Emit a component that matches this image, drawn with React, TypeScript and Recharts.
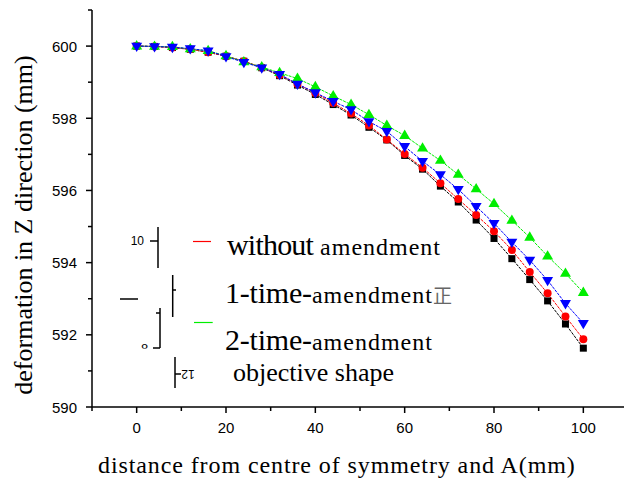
import { LineChart, Line, XAxis, YAxis } from "recharts";

const xValues = [0, 4, 8, 12, 16, 20, 24, 28, 32, 36, 40, 44, 48, 52, 56, 60, 64, 68, 72, 76, 80, 84, 88, 92, 96, 100];

const objectiveShape = [
  600.0, 599.99, 599.96, 599.91, 599.83, 599.72, 599.58, 599.4, 599.18, 598.92, 598.66, 598.38, 598.09,
  597.75, 597.4, 596.97, 596.59, 596.12, 595.68, 595.18, 594.67, 594.11, 593.53, 592.94, 592.3, 591.63,
];
const withoutAmendment = [
  600.0, 599.99, 599.96, 599.91, 599.83, 599.72, 599.58, 599.41, 599.2, 598.95, 598.7, 598.42, 598.13,
  597.8, 597.41, 597.01, 596.63, 596.2, 595.76, 595.32, 594.87, 594.35, 593.74, 593.15, 592.51, 591.88,
];
const oneTimeAmendment = [
  600.0, 599.99, 599.97, 599.93, 599.87, 599.71, 599.55, 599.4, 599.22, 598.95, 598.71, 598.47, 598.24,
  597.91, 597.64, 597.22, 596.81, 596.44, 596.03, 595.56, 595.09, 594.57, 594.07, 593.51, 592.87, 592.32,
];
const twoTimeAmendment = [
  600.0, 599.99, 599.98, 599.92, 599.87, 599.73, 599.56, 599.42, 599.26, 599.1, 598.87, 598.62, 598.38,
  598.1, 597.8, 597.52, 597.17, 596.83, 596.44, 596.04, 595.63, 595.17, 594.7, 594.18, 593.7, 593.17,
];

const xTickValues = [-10, 0, 10, 20, 30, 40, 50, 60, 70, 80, 90, 100, 110];
const xTickLabels = [0, 20, 40, 60, 80, 100];
const yTickValues = [590, 591, 592, 593, 594, 595, 596, 597, 598, 599, 600, 601];
const yTickLabels = [590, 592, 594, 596, 598, 600];

const chartData = xValues.map((x, i) => ({
  x,
  objective: objectiveShape[i],
  without: withoutAmendment[i],
  once: oneTimeAmendment[i],
  twice: twoTimeAmendment[i],
}));

const serif = "'Liberation Serif', 'Times New Roman', serif";
const sans = "'Liberation Sans', Arial, sans-serif";

const YTick = (props: any) => {
  const { x, y, payload } = props;
  const major = yTickLabels.includes(payload.value);
  return (
    <g>
      <line x1={x} x2={x - (major ? 6 : 4)} y1={y} y2={y} stroke="#000" strokeWidth={1.5} />
      {major && (
        <text x={x - 15} y={y} textAnchor="end" dominantBaseline="central" fontFamily={sans} fontSize={15} fill="#000">
          {payload.value}
        </text>
      )}
    </g>
  );
};

const XTick = (props: any) => {
  const { x, y, payload } = props;
  const major = xTickLabels.includes(payload.value);
  return (
    <g>
      <line x1={x} x2={x} y1={y} y2={y + (major ? 6 : 4)} stroke="#000" strokeWidth={1.5} />
      {major && (
        <text x={x} y={y + 20} textAnchor="middle" dominantBaseline="central" fontFamily={sans} fontSize={15} fill="#000">
          {payload.value}
        </text>
      )}
    </g>
  );
};

const squareDot = (p: any) =>
  p.cx == null ? null : <rect key={p.index} x={p.cx - 3.5} y={p.cy - 3.5} width={7} height={7} fill="#000" />;
const circleDot = (p: any) =>
  p.cx == null ? null : <circle key={p.index} cx={p.cx} cy={p.cy} r={4} fill="#ff0000" />;
const downDot = (p: any) =>
  p.cx == null ? null : (
    <path key={p.index} d={`M${p.cx - 5.5},${p.cy - 3.3} L${p.cx + 5.5},${p.cy - 3.3} L${p.cx},${p.cy + 6} Z`} fill="#0000ff" />
  );
const upDot = (p: any) =>
  p.cx == null ? null : (
    <path key={p.index} d={`M${p.cx - 5.5},${p.cy + 3.3} L${p.cx + 5.5},${p.cy + 3.3} L${p.cx},${p.cy - 6} Z`} fill="#00ee00" />
  );

export default function App() {
  return (
    <div style={{ position: "absolute", left: 0, top: 0, width: 624, height: 484, overflow: "hidden", background: "#fff" }}>
      <LineChart width={632} height={484} data={chartData} margin={{ top: 10, right: 4, left: 0, bottom: 0 }}>
        <XAxis
          type="number"
          dataKey="x"
          domain={[-10, 110]}
          ticks={xTickValues}
          interval={0}
          height={77}
          tickSize={0}
          tickMargin={0}
          tickLine={false}
          axisLine={{ stroke: "#000", strokeWidth: 1.5 }}
          tick={<XTick />}
          allowDataOverflow
        />
        <YAxis
          type="number"
          domain={[590, 601]}
          ticks={yTickValues}
          interval={0}
          width={92}
          tickSize={0}
          tickMargin={0}
          tickLine={false}
          axisLine={{ stroke: "#000", strokeWidth: 1.5 }}
          tick={<YTick />}
          allowDataOverflow
        />
        <Line dataKey="objective" stroke="#000" strokeWidth={1} strokeDasharray="3 1" dot={squareDot} activeDot={false} isAnimationActive={false} />
        <Line dataKey="without" stroke="#ff0000" strokeWidth={1} strokeDasharray="3 1" dot={circleDot} activeDot={false} isAnimationActive={false} />
        <Line dataKey="twice" stroke="#00ee00" strokeWidth={1} strokeDasharray="3 1" dot={upDot} activeDot={false} isAnimationActive={false} />
        <Line dataKey="once" stroke="#0000ff" strokeWidth={1} strokeDasharray="3 1" dot={downDot} activeDot={false} isAnimationActive={false} />
      </LineChart>
      <svg width={624} height={484} style={{ position: "absolute", left: 0, top: 0, pointerEvents: "none" }}>
        <defs>
          <clipPath id="cut8">
            <rect x={130} y={330} width={30} height={18.5} />
          </clipPath>
        </defs>
        <text transform="translate(32,225) rotate(-90)" textAnchor="middle" fontFamily={serif} fontSize={26} fill="#000">
          deformation in Z direction (mm)
        </text>
        <text x={98} y={473} fontFamily={serif} fontSize={24} letterSpacing={0.9} fill="#000">
          distance from centre of symmetry and A(mm)
        </text>

        <g stroke="#000" strokeWidth={1.5}>
          <line x1={150} x2={158} y1={241} y2={241} />
          <line x1={158} x2={158} y1={227} y2={268} />
          <line x1={120} x2={138} y1={299} y2={299} />
          <line x1={172.7} x2={172.7} y1={275} y2={317} />
          <line x1={172.7} x2={176} y1={290} y2={290} />
          <line x1={160} x2={160} y1={308} y2={348} />
          <line x1={153} x2={160} y1={348} y2={348} />
          <line x1={156} x2={160} y1={313} y2={313} />
          <line x1={175} x2={175} y1={357} y2={388} />
          <line x1={175} x2={181} y1={374} y2={374} />
        </g>
        <text x={144} y={241} textAnchor="end" dominantBaseline="central" fontFamily={sans} fontSize={12} fill="#000">10</text>
        <text x={141} y={353} fontFamily={sans} fontSize={13} fill="#000" clipPath="url(#cut8)">8</text>
        <text transform="translate(188,374) rotate(180)" textAnchor="middle" dominantBaseline="central" fontFamily={sans} fontSize={12} fill="#000">12</text>

        <line x1={193} x2={211} y1={241.5} y2={241.5} stroke="#ff0000" strokeWidth={1.2} />
        <line x1={194} x2={212.7} y1={322.5} y2={322.5} stroke="#00ee00" strokeWidth={1.2} />

        <text x={227} y={255} fontFamily={serif} fill="#000">
          <tspan fontSize={30} letterSpacing={-0.8}>without</tspan>
          <tspan fontSize={24} letterSpacing={1}> amendment</tspan>
        </text>
        <text x={225} y={303} fontFamily={serif} fill="#000">
          <tspan fontSize={30} letterSpacing={-0.2}>1-time-</tspan>
          <tspan fontSize={24} letterSpacing={1}>amendment</tspan>
          <tspan fontSize={19} fill="#666" fontFamily="'Noto Sans CJK SC', sans-serif">正</tspan>
        </text>
        <text x={225} y={350} fontFamily={serif} fill="#000">
          <tspan fontSize={30} letterSpacing={-0.2}>2-time-</tspan>
          <tspan fontSize={24} letterSpacing={1}>amendment</tspan>
        </text>
        <text x={233} y={381} fontFamily={serif} fontSize={26} fill="#000">
          objective shape
        </text>
      </svg>
    </div>
  );
}
